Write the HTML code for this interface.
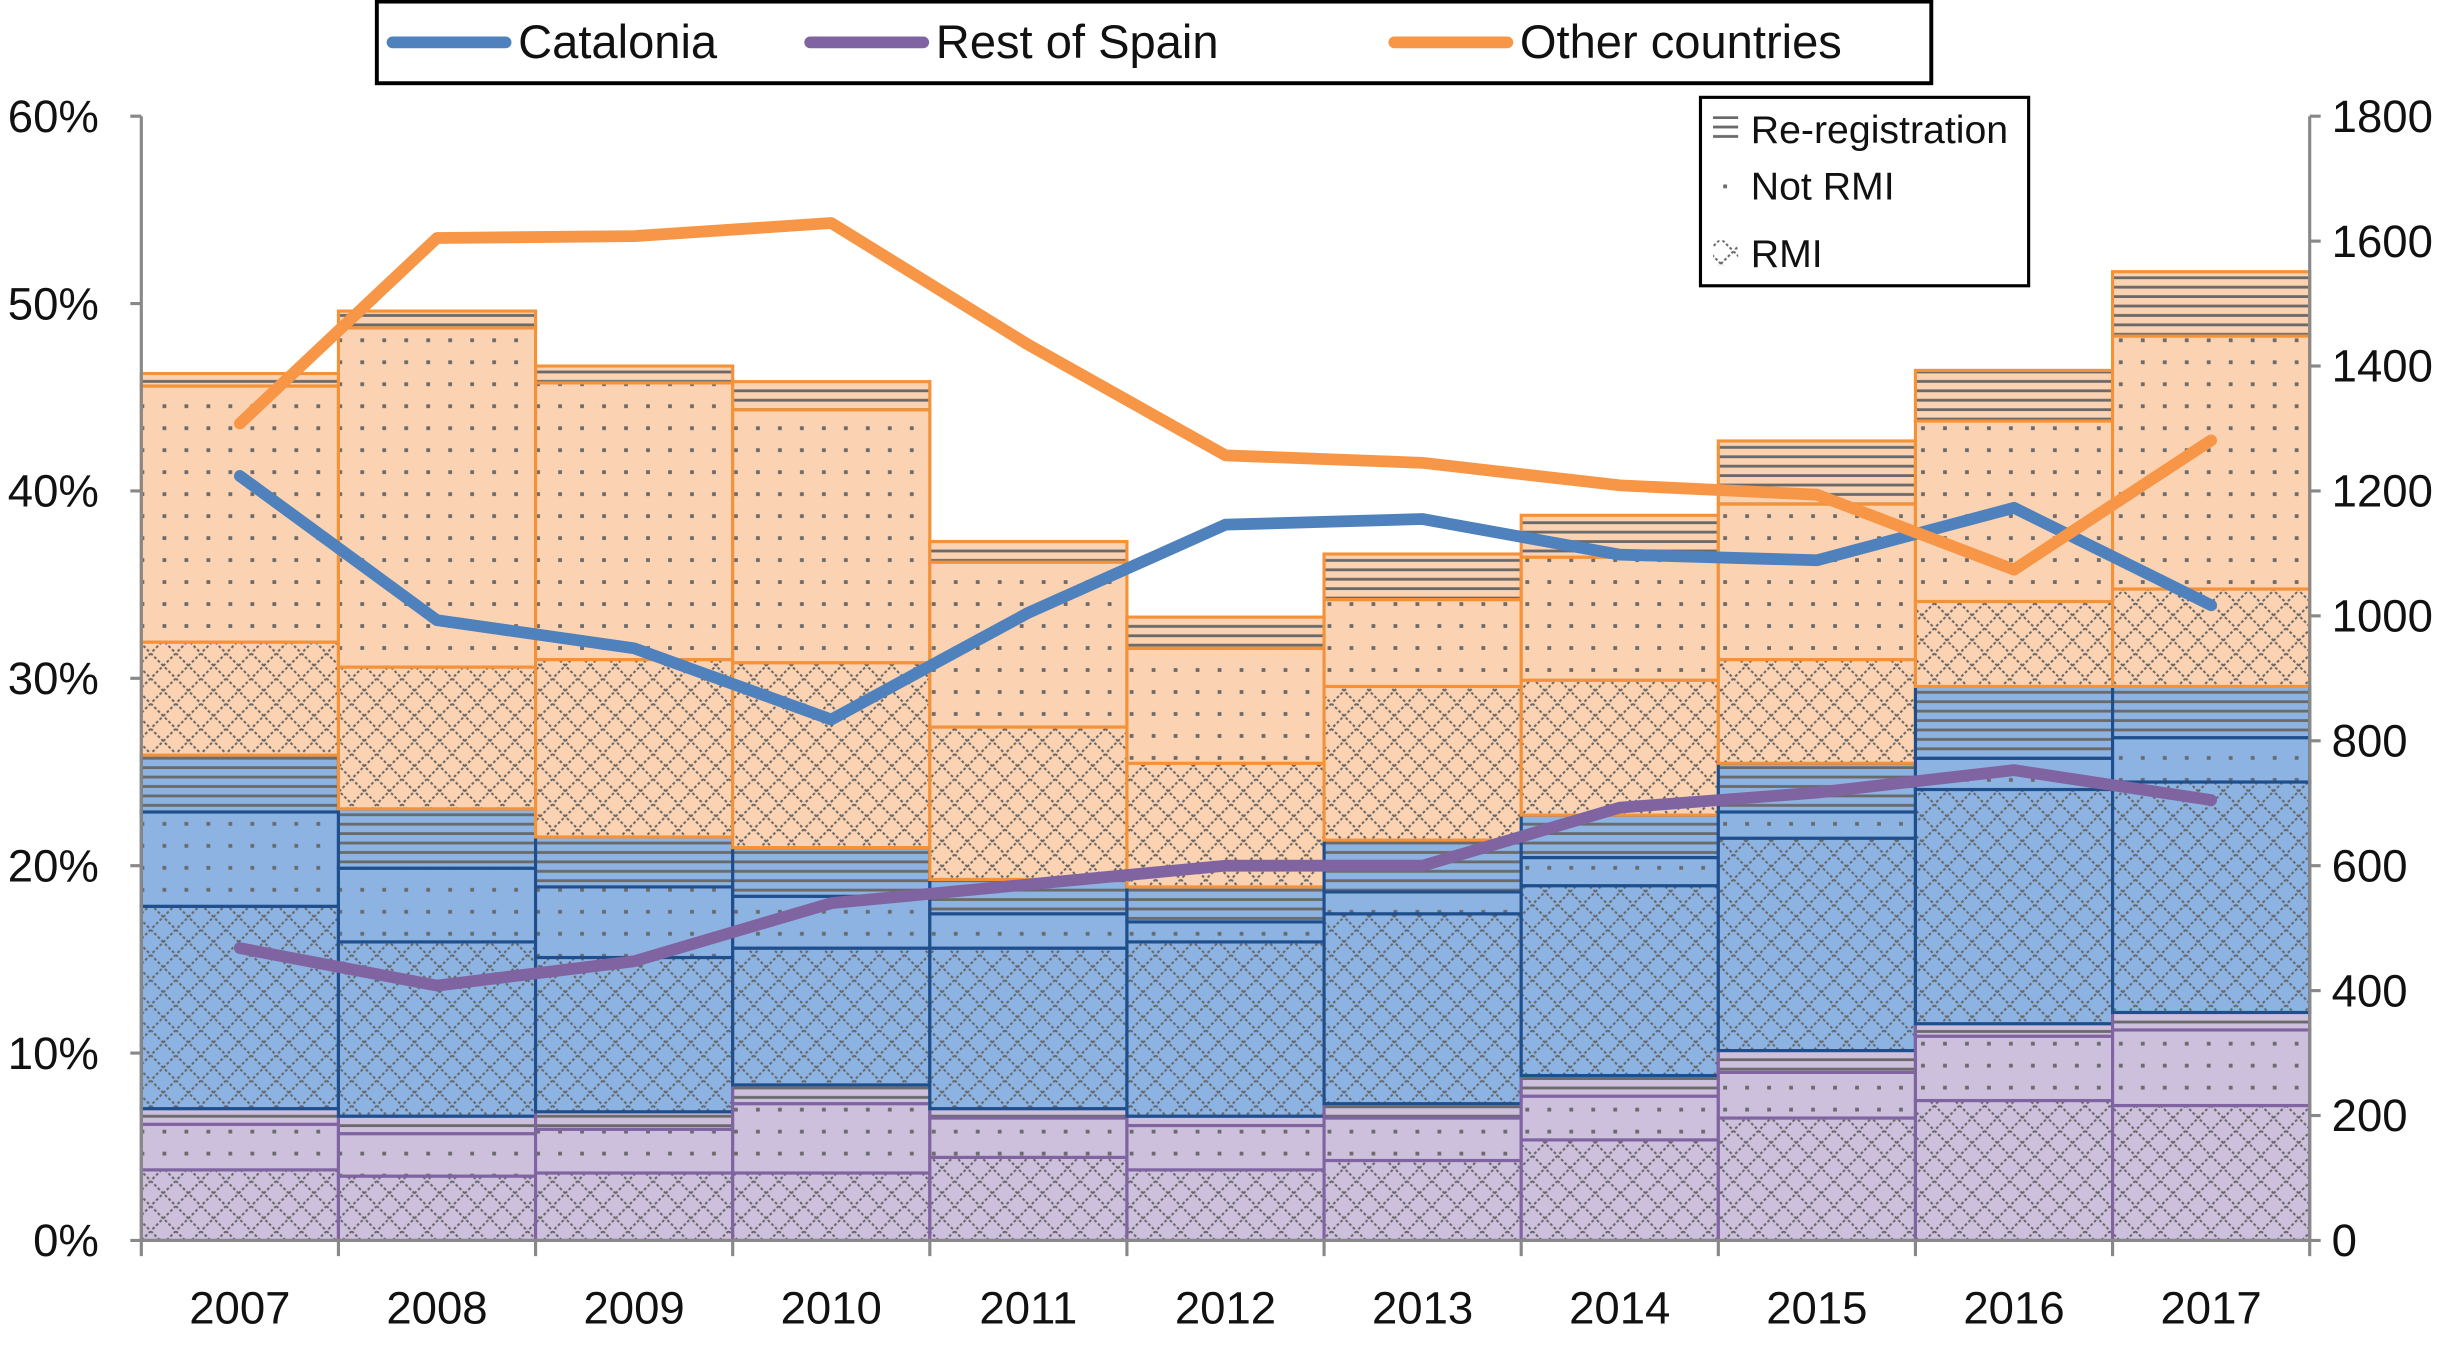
<!DOCTYPE html>
<html><head><meta charset="utf-8"><style>
html,body{margin:0;padding:0;background:#fff}
svg{display:block;font-family:"Liberation Sans",sans-serif}
</style></head><body>
<svg id="chart" width="2462" height="1348" viewBox="0 0 1568 858.5" preserveAspectRatio="none" xmlns="http://www.w3.org/2000/svg">
<defs>
<pattern id="pCross" width="16" height="16" patternUnits="userSpaceOnUse">
<path d="M0 0L16 16M16 0L0 16" stroke="#666" stroke-width="1.3" stroke-dasharray="1.8 1.4" fill="none"/>
</pattern>
<pattern id="pDots" width="14" height="14" patternUnits="userSpaceOnUse">
<rect x="5.5" y="5.5" width="2.4" height="2.4" fill="#6a6a6a"/>
</pattern>
<pattern id="pStripe" width="8" height="6" patternUnits="userSpaceOnUse">
<rect x="0" y="2" width="8" height="1.8" fill="#6a6a6a"/>
</pattern>
</defs>
<g id="bars"></g>
<g id="axes"></g>
<g id="lines"></g>
<g id="legend"></g>
</svg>
<script>
const years=['2007','2008','2009','2010','2011','2012','2013','2014','2015','2016','2017'];
// cumulative stacked boundaries (right axis counts): purple RMI, NotRMI, Rereg, blue RMI, NotRMI, Rereg, orange RMI, NotRMI, Rereg
const stackTops=[
[113,186,211,535,686,777,958,1368,1388],
[103,171,199,478,596,691,918,1461,1488],
[108,178,206,453,566,646,930,1373,1400],
[108,219,249,468,551,629,925,1330,1375],
[133,196,211,468,523,578,822,1086,1119],
[113,184,199,478,510,566,764,948,998],
[128,196,219,523,558,641,887,1026,1099],
[161,231,264,568,613,681,897,1094,1161],
[196,269,304,644,686,764,930,1179,1280],
[224,327,347,722,772,887,1023,1312,1393],
[216,337,365,734,805,887,1043,1448,1551]];
const catalonia=[40.8,33.1,31.6,27.8,33.5,38.2,38.5,36.6,36.3,39.1,33.9];
const restOfSpain=[15.6,13.6,14.9,18.0,19.0,20.0,20.0,23.1,23.9,25.1,23.5];
const otherCountries=[43.6,53.5,53.6,54.3,47.8,41.9,41.5,40.3,39.8,35.8,42.7];
const leftTicks=['0%','10%','20%','30%','40%','50%','60%'];
const rightTicks=['0','200','400','600','800','1000','1200','1400','1600','1800'];

const NS='http://www.w3.org/2000/svg';
const X0=90,X1=1471,Y0=790,Y1=74;
const bw=(X1-X0)/years.length;
const yR=v=>Y0-(v/1800)*(Y0-Y1);
const yL=v=>Y0-(v/60)*(Y0-Y1);
const xC=i=>X0+bw*(i+0.5);
function el(tag,attrs,parent){const e=document.createElementNS(NS,tag);for(const k in attrs)e.setAttribute(k,attrs[k]);parent.appendChild(e);return e;}
const fills=['#ccc0dc','#8db3e2','#fbd3b2'];
const strokes=['#8064a2','#1f4e8c','#f4923a'];
const pats=['url(#pCross)','url(#pDots)','url(#pStripe)'];
const segNames=['rmi','not-rmi','re-registration'];
const grpNames=['rest-of-spain','catalonia','other-countries'];
const gb=document.getElementById('bars');
years.forEach((yr,i)=>{
  const s=stackTops[i];let prev=0;
  for(let k=0;k<9;k++){
    const g=Math.floor(k/3),p=k%3;
    const x=X0+bw*i,top=yR(s[k]),bot=yR(prev);
    const r=el('rect',{x:x,y:top,width:bw,height:bot-top,fill:fills[g]},gb);
    
    
    el('rect',{x:x,y:top,width:bw,height:bot-top,fill:pats[p],stroke:strokes[g],'stroke-width':2},gb);
    prev=s[k];
  }
});
const ga=document.getElementById('axes');
el('line',{x1:X0,y1:Y1,x2:X0,y2:Y0,stroke:'#888','stroke-width':2},ga);
el('line',{x1:X1,y1:Y1,x2:X1,y2:Y0,stroke:'#888','stroke-width':2},ga);
el('line',{x1:X0,y1:Y0,x2:X1,y2:Y0,stroke:'#888','stroke-width':2},ga);
leftTicks.forEach((t,i)=>{const y=yL(i*10);
  el('line',{x1:X0-7,y1:y,x2:X0,y2:y,stroke:'#888','stroke-width':2},ga);
  const tx=el('text',{x:X0-27,y:y+10,'font-size':29,'text-anchor':'end',fill:'#111'},ga);tx.textContent=t;
  
  });
rightTicks.forEach((t,i)=>{const y=yR(i*200);
  el('line',{x1:X1,y1:y,x2:X1+7,y2:y,stroke:'#888','stroke-width':2},ga);
  const tx=el('text',{x:X1+14,y:y+10,'font-size':29,fill:'#111'},ga);tx.textContent=t;
  
  });
for(let i=0;i<=years.length;i++){const x=X0+bw*i;el('line',{x1:x,y1:Y0,x2:x,y2:Y0+10,stroke:'#888','stroke-width':2},ga);}
years.forEach((yr,i)=>{const tx=el('text',{x:xC(i),y:843,'font-size':29,'text-anchor':'middle',fill:'#111'},ga);tx.textContent=yr;
  
  });
const gl=document.getElementById('lines');
[[catalonia,'#4f81bd','line-catalonia'],[restOfSpain,'#8064a2','line-rest-of-spain'],[otherCountries,'#f79646','line-other-countries']].forEach(([d,c,n])=>{
  const p=el('polyline',{points:d.map((v,i)=>xC(i)+','+yL(v)).join(' '),fill:'none',stroke:c,'stroke-width':7.5,'stroke-linejoin':'round','stroke-linecap':'round'},gl);
  
  
});
const lg=document.getElementById('legend');
const box=el('rect',{x:240,y:1,width:990,height:52,fill:'#fff',stroke:'#000','stroke-width':2.5},lg);


[['Catalonia','#4f81bd',250],['Rest of Spain','#8064a2',516],['Other countries','#f79646',888]].forEach(([t,c,x])=>{
  el('line',{x1:x,y1:27,x2:x+72,y2:27,stroke:c,'stroke-width':7.5,'stroke-linecap':'round'},lg);
  const tx=el('text',{x:x+80,y:37,'font-size':30,fill:'#111'},lg);tx.textContent=t;
  
  
});
const b2=el('rect',{x:1083,y:62,width:209,height:120,fill:'#fff',stroke:'#000','stroke-width':2},lg);


[['Re-registration','url(#pStripe)',82],['Not RMI','url(#pDots)',118],['RMI','url(#pCross)',161]].forEach(([t,p,y])=>{
  el('rect',{x:1091,y:y-8,width:16,height:16,fill:p},lg);
  const tx=el('text',{x:1115,y:y+9,'font-size':25,fill:'#111'},lg);tx.textContent=t;
  
  
});
</script>
</body></html>
